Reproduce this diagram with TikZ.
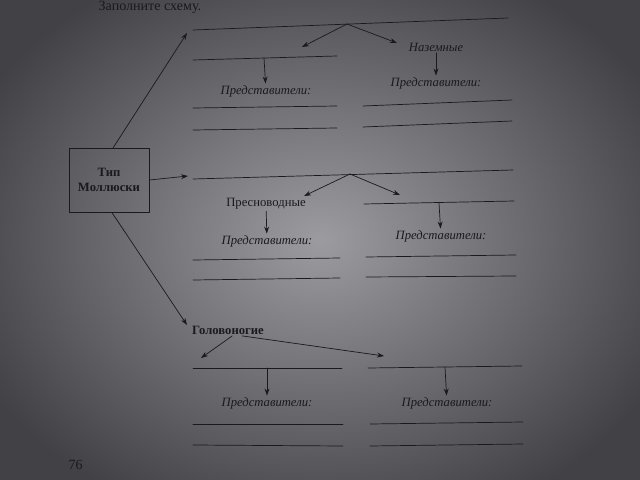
\documentclass[tikz,border=0pt]{standalone}
\usepackage{fontspec}
\setmainfont{Liberation Serif}
\usetikzlibrary{arrows.meta}
\definecolor{paper}{RGB}{156,156,160}
\definecolor{paperdark}{RGB}{66,66,70}
\definecolor{ink}{RGB}{26,26,30}
\begin{document}
\begin{tikzpicture}[x=0.025cm, y=-0.025cm, line join=round, line cap=round,
  blank/.style={draw=ink, line width=0.5pt},
  arr/.style={draw=ink, line width=0.5pt, -{Stealth[length=5pt, width=3.5pt]}},
  rep/.style={font=\itshape\small, text=ink, inner sep=1pt},
  kind/.style={font=\small, text=ink, inner sep=1pt}]
\useasboundingbox (0,0) rectangle (640,480);
\shade[inner color=paper, outer color=paperdark] (-60,-60) rectangle (700,540);
\node[kind, anchor=base west, font=\normalsize] (title) at (97,11) {Заполните схему.};
\node[kind, anchor=base west, font=\normalsize] (page) at (67,469) {76};
\node[draw=ink, line width=0.5pt, minimum width=2cm, minimum height=1.6cm,
  align=center, font=\bfseries\small, text=ink] (box) at (109,180) {Тип\\Моллюски};
\coordinate (t1) at (187,33);
\coordinate (t2) at (188,176);
\coordinate (t3) at (187,325);
\draw[arr] ([xshift=3]box.north) -- (t1);
\draw[arr] (box.east) -- (t2);
\draw[arr] ([xshift=2]box.south) -- (t3);
% first group
\coordinate (a1) at (193,30);
\coordinate (a2) at (508,18);
\coordinate (as) at (347,24);
\coordinate (al) at (302,47);
\coordinate (ar) at (397,43);
\draw[blank] (a1) -- (a2);
\draw[arr] (as) -- (al);
\draw[arr] (as) -- (ar);
\coordinate (b1) at (193,60);
\coordinate (b2) at (337,56);
\coordinate (bs) at (264,58);
\draw[blank] (b1) -- (b2);
\node[rep] (r1) at (266,91) {Представители:};
\draw[arr] (bs) -- (r1);
\draw[blank] (193,108) -- (337,106);
\draw[blank] (193,130) -- (337,128);
\node[rep] (k1) at (436,47) {Наземные};
\node[rep] (r2) at (436,83) {Представители:};
\draw[arr] (k1) -- (r2);
\draw[blank] (363,106) -- (512,100);
\draw[blank] (363,127) -- (512,121);
% second group
\coordinate (c1) at (193,179);
\coordinate (c2) at (513,170);
\coordinate (cs) at (350,174);
\coordinate (cl) at (304,196);
\coordinate (cr) at (400,195);
\draw[blank] (c1) -- (c2);
\draw[arr] (cs) -- (cl);
\draw[arr] (cs) -- (cr);
\node[kind] (k2) at (266,204) {Пресноводные};
\node[rep] (r3) at (267,241) {Представители:};
\draw[arr] (k2) -- (r3);
\draw[blank] (193,260) -- (340,258);
\draw[blank] (193,280) -- (340,278);
\coordinate (d1) at (364,204);
\coordinate (d2) at (514,201);
\coordinate (ds) at (439,203);
\draw[blank] (d1) -- (d2);
\node[rep] (r4) at (441,236) {Представители:};
\draw[arr] (ds) -- (r4);
\draw[blank] (366,257) -- (516,255);
\draw[blank] (366,277) -- (516,276);
% third group
\node[kind, font=\bfseries\small] (k3) at (228,330) {Головоногие};
\coordinate (el) at (201,358);
\coordinate (er) at (384,356);
\draw[arr] ([xshift=3]k3.south) -- (el);
\draw[arr] ([xshift=10]k3.south) -- (er);
\coordinate (e1) at (193,368);
\coordinate (e2) at (342,368);
\coordinate (es) at (267,368);
\draw[blank] (e1) -- (e2);
\node[rep] (r5) at (267,403) {Представители:};
\draw[arr] (es) -- (r5);
\draw[blank] (193,424) -- (343,424);
\draw[blank] (193,445) -- (343,446);
\coordinate (f1) at (368,368);
\coordinate (f2) at (522,366);
\coordinate (fs) at (445,367);
\draw[blank] (f1) -- (f2);
\node[rep] (r6) at (447,403) {Представители:};
\draw[arr] (fs) -- (r6);
\draw[blank] (370,424) -- (523,422);
\draw[blank] (370,446) -- (523,444);
\end{tikzpicture}
\end{document}
